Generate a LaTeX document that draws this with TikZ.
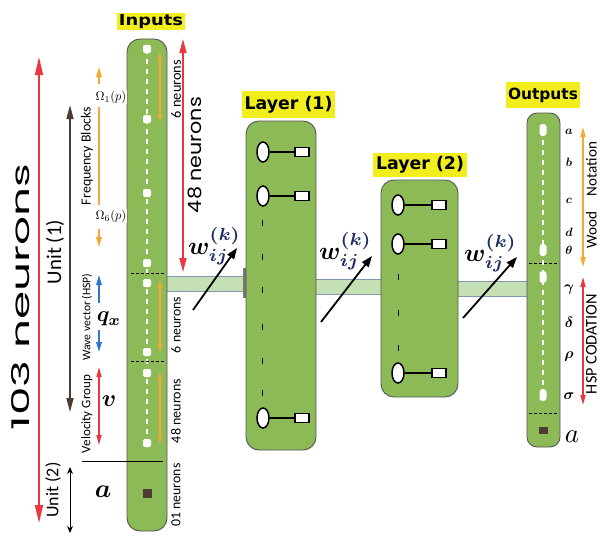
\documentclass[tikz,border=0pt]{standalone}
\usepackage[no-math]{fontspec}
\setmainfont{Carlito}
\newfontfamily\headfont{DejaVu Sans}
\newfontfamily\geofont{Poppins}
\usetikzlibrary{arrows.meta,shapes.geometric}
\definecolor{colgreen}{RGB}{140,186,86}
\definecolor{bandgreen}{RGB}{197,224,180}
\definecolor{bandedge}{RGB}{132,151,176}
\definecolor{hlyellow}{RGB}{242,238,30}
\definecolor{arred}{RGB}{234,56,64}
\definecolor{arorange}{RGB}{246,168,50}
\definecolor{arblue}{RGB}{46,117,214}
\definecolor{arbrown}{RGB}{78,58,48}
\definecolor{sqbrown}{RGB}{77,60,53}
\definecolor{colborder}{RGB}{85,85,85}
\definecolor{knavy}{RGB}{30,45,100}
\newcommand\myneuron[4]{% name, x ellipse, x square, y
  \node[nsq] (#1s) at (#3,#4) {};
  \node[nell] (#1e) at (#2,#4) {};
  \draw[nline] (#1e.east) -- (#1s.west);}
\newcommand\mybm[2]{\scalebox{#1}{\boldmath$#2$}}
\newcommand\myrm[2]{\scalebox{#1}{$#2$}}
\begin{document}
\begin{tikzpicture}[x=1pt,y=-1pt,
  colbox/.style={draw=colborder, line width=0.9pt, fill=colgreen, inner sep=0pt},
  hl/.style={fill=hlyellow, inner sep=0pt},
  indot/.style={fill=white, rounded corners=2pt, minimum width=8pt, minimum height=8pt, inner sep=0pt},
  outdot/.style={fill=white, rounded corners=3pt, minimum width=7pt, minimum height=12pt, inner sep=0pt},
  nell/.style={ellipse, draw=black, line width=1.5pt, fill=white, minimum width=12pt, minimum height=20pt, inner sep=0pt},
  nsq/.style={rectangle, draw=black, line width=1.8pt, fill=white, minimum width=14pt, minimum height=9pt, inner sep=0pt},
  nline/.style={line width=1.6pt},
  wdash/.style={white, line width=1.2pt, dash pattern=on 5pt off 5pt},
  bdash/.style={black, line width=1pt, dash pattern=on 3pt off 2pt},
  ldash/.style={black, line width=1pt},
  vt/.style={rotate=90, inner sep=0pt},
  band/.style={fill=bandgreen, draw=none},
  bandline/.style={draw=bandedge, line width=1pt},
  dbl/.style={line width=1.5pt, {Triangle[length=#1,width=0.5*#1]}-{Triangle[length=#1,width=0.5*#1]}},
  sgl/.style={line width=1.5pt, -{Triangle[length=#1,width=0.55*#1]}},
  warrow/.style={black, line width=1.8pt, -{Triangle[length=11pt,width=8pt]}},
  wlab/.style={anchor=base west, inner sep=0pt},
  ml/.style={inner sep=0pt},
]
\useasboundingbox (0,0) rectangle (601,535);
\fill[white] (0,0) rectangle (601,535);

% bands
\fill[band] (167,276) rectangle (246,291);
\draw[bandline] (167,276) -- (246,276) (167,291) -- (246,291);
\fill[band] (316,279) rectangle (381,294);
\draw[bandline] (316,279) -- (381,279) (316,294) -- (381,294);
\fill[band] (458,281) rectangle (527,296);
\draw[bandline] (458,281) -- (527,281) (458,296) -- (527,296);
\fill[colborder!80] (243,268) rectangle (247,298);

% columns
\node[colbox, rounded corners=13pt, minimum width=40pt, minimum height=492pt] (inp) at (147,285) {};
\node[colbox, rounded corners=13pt, minimum width=70pt, minimum height=329pt] (lay1) at (281,285.5) {};
\node[colbox, rounded corners=13pt, minimum width=77pt, minimum height=217pt] (lay2) at (419.5,288.5) {};
\node[colbox, rounded corners=10pt, minimum width=33pt, minimum height=334pt] (outp) at (543.5,280) {};

% headings
\node[hl, minimum width=68pt, minimum height=17pt] (hin) at (151,22) {\resizebox{64pt}{11pt}{\headfont\bfseries Inputs}};
\node[hl, minimum width=93pt, minimum height=27pt] (hl1) at (288.5,104.5) {\resizebox{88pt}{!}{\headfont\bfseries Layer (1)}};
\node[hl, minimum width=94pt, minimum height=24pt] (hl2) at (420,164.5) {\resizebox{88pt}{!}{\headfont\bfseries Layer (2)}};
\node[hl, minimum width=74pt, minimum height=26pt] (hout) at (543,95) {\resizebox{70pt}{!}{\headfont\bfseries Outputs}};

% input column contents
\draw[wdash] (147,49) -- (147,443);
\foreach \yy/\nm in {49/i1,119/i2,193/i3,263/i4,283/i5,352/i6,373/i7,443/i8}
  \node[indot] (\nm) at (147,\yy) {};
\node[fill=sqbrown, minimum size=9pt, inner sep=0pt] (ia) at (147,493) {};
\draw[bdash] (131,273) -- (164,273);
\draw[bdash] (131,361) -- (164,361);
\draw[black, line width=0.9pt] (82,461) -- (163,461);
\draw[arorange, dbl=8pt, line width=1.3pt] (160,52) -- (160,122);
\draw[arorange, dbl=8pt, line width=1.3pt] (160,280) -- (160,353);
\draw[arorange, dbl=8pt, line width=1.3pt] (160,372) -- (160,444);

% layer 1
\myneuron{a1}{263}{302}{152}
\myneuron{a2}{263}{302}{196}
\myneuron{a3}{263}{302}{418}
\foreach \yy in {223,257,290,327,361,393}
  \draw[ldash] (262,\yy-3) -- (262,\yy+3);

% layer 2
\myneuron{b1}{398}{439}{205}
\myneuron{b2}{398}{439}{244}
\myneuron{b3}{398}{439}{373}
\foreach \yy in {277,313,348}
  \draw[ldash] (398,\yy-3) -- (398,\yy+3);

% outputs column
\draw[wdash] (543,130) -- (543,395);
\foreach \yy/\nm in {130/o1,250/o2,277/o3,395/o4}
  \node[outdot] (\nm) at (543,\yy) {};
\draw[bdash] (529,263) -- (559,263);
\draw[bdash] (529,413) -- (559,413);
\node[fill=sqbrown, minimum width=9pt, minimum height=7pt, inner sep=0pt] (oa) at (543,430) {};

% output letters
\foreach \yy/\tt in {132/a,162/b,201/c,232/d,250/\theta}
  \node[ml] at (569,\yy) {\mybm{1.2}{\tt}};
\foreach \yy/\tt in {290/\gamma,322/\delta,357/\rho,396/\sigma}
  \node[ml] at (569,\yy) {\mybm{1.5}{\tt}};
\node[ml] (oalab) at (572,437) {\myrm{2.7}{a}};
\draw[arorange, dbl=10pt] (583,127) -- (583,267);
\draw[arred, dbl=10pt] (583,277) -- (583,405);
\node[vt] (wood) at (591.5,195) {\resizebox{106pt}{!}{Wood\quad Notation}};
\node[vt] (hspc) at (591.5,344) {\resizebox{100pt}{!}{HSP CODATION}};

% left annotations
\draw[arred, line width=1.6pt, {Triangle[length=18pt,width=8pt]}-{Triangle[length=18pt,width=8pt]}] (39,57) -- (39,523);
\node[vt] (n103) at (21,297) {\resizebox{267pt}{18pt}{\geofont 103 neurons}};
\draw[arbrown, line width=1.6pt, {Triangle[length=14pt,width=7pt]}-{Triangle[length=14pt,width=7pt]}] (70,105) -- (70,412);
\node[vt] (u1) at (55,252) {\resizebox{64pt}{!}{Unit (1)}};
\draw[black, line width=1pt, {Stealth[length=7pt,width=6pt]}-{Stealth[length=7pt,width=6pt]}] (70,467) -- (70,533);
\node[vt] (u2) at (53,490) {\resizebox{55pt}{!}{Unit (2)}};
\node[ml] (alab) at (103,492) {\mybm{2.6}{a}};

\draw[arorange, sgl=10pt] (99,84) -- (99,67);
\draw[arorange, line width=1.5pt] (99,107) -- (99,205);
\draw[arorange, sgl=10pt] (99,229) -- (99,247);
\node[fill=white, inner sep=1pt] (om1) at (111,97) {\myrm{1.25}{\Omega_1(p)}};
\node[fill=white, inner sep=1pt] (om6) at (111,216) {\myrm{1.25}{\Omega_6(p)}};
\node[vt] (fb) at (87,156) {\resizebox{98pt}{!}{Frequency Blocks}};

\draw[arblue, sgl=10pt] (99,303) -- (99,275);
\draw[arblue, sgl=10pt] (99,330) -- (99,352);
\node[ml] (qx) at (109,319) {\mybm{2.2}{q_x}};
\node[vt] (wv) at (87,317) {\resizebox{87pt}{!}{Wave vector (HSP)}};

\draw[arred, dbl=10pt] (99,367) -- (99,445);
\node[ml] (vlab) at (109,401) {\mybm{2.4}{v}};
\node[vt] (vg) at (87,414) {\resizebox{78pt}{!}{Velocity Group}};

% inputs right annotations
\node[vt] (n6a) at (176,89) {\resizebox{58pt}{!}{6 neurons}};
\node[vt] (n6b) at (176,325) {\resizebox{56pt}{!}{6 neurons}};
\node[vt] (n48s) at (176,411) {\resizebox{64pt}{!}{48 neurons}};
\node[vt] (n01) at (176,495) {\resizebox{63pt}{!}{01 neurons}};
\draw[arred, dbl=14pt] (183,39) -- (183,272);
\node[vt] (n48) at (195,155) {\resizebox{116pt}{13.5pt}{\geofont 48 neurons}};

% weights
\draw[warrow] (193,310) -- (237,248);
\node[wlab] (w1) at (188,254) {\mybm{2.5}{w_{ij}^{\color{knavy}(k)}}};
\draw[warrow] (321,322) -- (372,256);
\node[wlab] (w2) at (319,259) {\mybm{2.5}{w_{ij}^{\color{knavy}(k)}}};
\draw[warrow] (463,318) -- (517,257);
\node[wlab] (w3) at (464,261) {\mybm{2.5}{w_{ij}^{\color{knavy}(k)}}};
\end{tikzpicture}
\end{document}
